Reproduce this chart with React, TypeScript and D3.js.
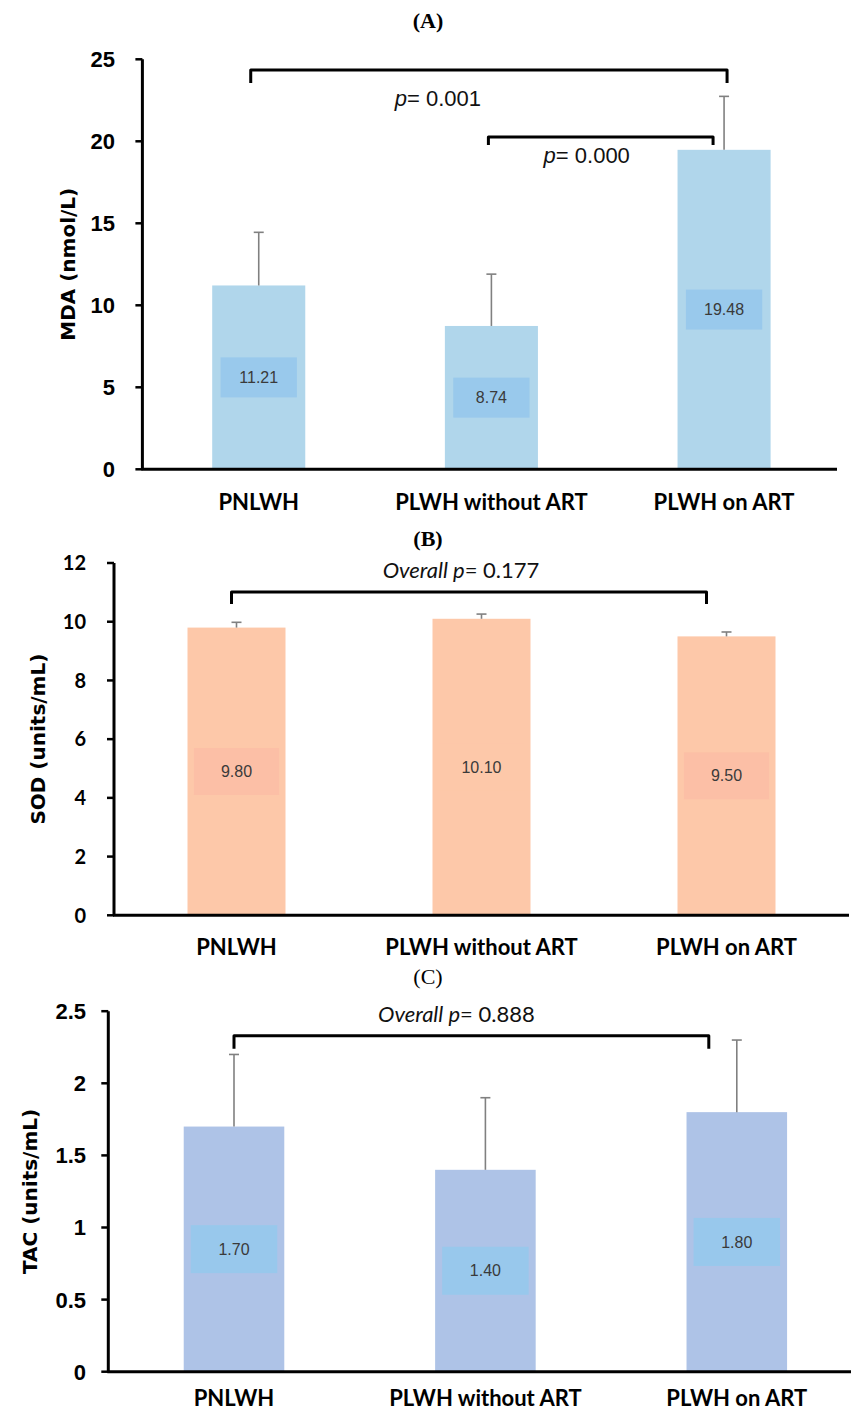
import React from 'react';
import * as d3 from 'd3';

// shared categories
const categories = ['PNLWH', 'PLWH without ART', 'PLWH on ART'];

// (A) MDA
const mdaMeans = [11.21, 8.74, 19.48];
const mdaErrors = [3.24, 3.16, 3.26];
const mdaTicks = [0, 5, 10, 15, 20, 25];
const mdaBrackets = [
  { from: 'PNLWH', to: 'PLWH on ART', level: 24.35, leg: 23.55, lead: 'p', rest: '= 0.001' },
  { from: 'PLWH without ART', to: 'PLWH on ART', level: 20.26, leg: 19.78, lead: 'p', rest: '= 0.000' },
];

// (B) SOD
const sodMeans = [9.8, 10.1, 9.5];
const sodErrors = [0.18, 0.16, 0.15];
const sodTicks = [0, 2, 4, 6, 8, 10, 12];
const sodBrackets = [
  { from: 'PNLWH', to: 'PLWH on ART', level: 11.01, leg: 10.6, lead: 'Overall p', rest: '= 0.177' },
];

// (C) TAC
const tacMeans = [1.7, 1.4, 1.8];
const tacErrors = [0.5, 0.5, 0.5];
const tacTicks = [0, 0.5, 1, 1.5, 2, 2.5];
const tacBrackets = [
  { from: 'PNLWH', to: 'PLWH on ART', level: 2.33, leg: 2.24, lead: 'Overall p', rest: '= 0.888' },
];

const W = 851;
const H = 1414;

const Panel = ({ cfg }) => {
  const x = d3
    .scaleBand()
    .domain(categories)
    .range([cfg.left, cfg.right])
    .paddingInner(0.6)
    .paddingOuter(0.3);

  const y = d3
    .scaleLinear()
    .domain([0, cfg.ticks[cfg.ticks.length - 1]])
    .range([cfg.bottom, cfg.top]);

  const bw = x.bandwidth();
  const fmt = d3.format('.2f');
  const tickFmt = d3.format('~g');

  return (
    <g>
      <text
        x={cfg.captionX}
        y={cfg.captionY}
        textAnchor="middle"
        fontFamily="'Liberation Serif', 'Times New Roman', serif"
        fontWeight={cfg.captionBold ? 'bold' : 'normal'}
        fontSize={22}
        fill="#000"
      >
        {cfg.caption}
      </text>

      {/* bars */}
      {categories.map((c, i) => (
        <rect
          key={'bar' + c}
          x={x(c)}
          y={y(cfg.means[i])}
          width={bw}
          height={y(0) - y(cfg.means[i])}
          fill={cfg.barColor}
        />
      ))}

      {/* error bars, upper only */}
      {categories.map((c, i) => {
        const cx = x(c) + bw / 2;
        const top = y(cfg.means[i] + cfg.errors[i]);
        return (
          <g key={'err' + c} stroke="#808080" strokeWidth={1.6}>
            <line x1={cx} x2={cx} y1={y(cfg.means[i])} y2={top} />
            <line x1={cx - 5} x2={cx + 5} y1={top} y2={top} />
          </g>
        );
      })}

      {/* value labels */}
      {categories.map((c, i) => {
        const cx = x(c) + bw / 2;
        const cy = y(cfg.means[i] / 2);
        const bx = bw * cfg.boxFrac;
        return (
          <g key={'lab' + c}>
            <rect
              x={cx - bx / 2}
              y={cy - cfg.boxH / 2}
              width={bx}
              height={cfg.boxH}
              fill={cfg.boxColors[i]}
            />
            <text
              x={cx}
              y={cy}
              dy="0.35em"
              textAnchor="middle"
              fontFamily="'Liberation Sans', Arial, sans-serif"
              fontSize={16}
              fill="#3a3a3a"
            >
              {fmt(cfg.means[i])}
            </text>
          </g>
        );
      })}

      {/* y axis */}
      <line
        x1={cfg.left}
        x2={cfg.left}
        y1={y.range()[1]}
        y2={y(0)}
        stroke="#000"
        strokeWidth={3}
      />
      {cfg.ticks.map((t) => (
        <g key={'tick' + t}>
          <line x1={cfg.left - 7} x2={cfg.left} y1={y(t)} y2={y(t)} stroke="#000" strokeWidth={2.5} />
          <text
            x={cfg.tickRight}
            y={y(t)}
            dy="0.36em"
            textAnchor="end"
            fontFamily={cfg.tickFont}
            fontWeight="bold"
            fontSize={cfg.tickSize}
            fill="#000"
          >
            {tickFmt(t)}
          </text>
        </g>
      ))}

      {/* x axis */}
      <line
        x1={cfg.left - 1}
        x2={cfg.axisEnd}
        y1={y(0)}
        y2={y(0)}
        stroke="#000"
        strokeWidth={3}
      />
      {categories.map((c) => (
        <text
          key={'cat' + c}
          x={x(c) + bw / 2}
          y={cfg.catY}
          textAnchor="middle"
          fontFamily="Lato, 'Open Sans', sans-serif"
          fontWeight="bold"
          fontSize={22}
          fill="#000"
        >
          {c}
        </text>
      ))}

      {/* y title */}
      <text
        transform={`translate(${cfg.titleX},${(y.range()[0] + y.range()[1]) / 2}) rotate(-90)`}
        textAnchor="middle"
        dy="0.35em"
        fontFamily="'DejaVu Sans', Verdana, sans-serif"
        fontWeight="bold"
        fontSize={20}
        fill="#000"
      >
        {cfg.yTitle}
      </text>

      {/* significance brackets */}
      {cfg.brackets.map((b, k) => {
        const off = cfg.bracketOffsets[k];
        const xl = x(b.from) + bw / 2 + off.l;
        const xr = x(b.to) + bw / 2 + off.r;
        const yt = y(b.level);
        const yl = y(b.leg);
        return (
          <g key={'br' + k}>
            <path
              d={`M${xl},${yl}V${yt}H${xr}V${yl}`}
              fill="none"
              stroke="#000"
              strokeWidth={3}
              strokeLinejoin="round"
            />
            <text
              x={(xl + xr) / 2 + off.tx}
              y={yt + off.ty}
              textAnchor="middle"
              fontFamily={cfg.pFont}
              fontSize={22}
              fill="#111"
            >
              <tspan fontStyle="italic">{b.lead}</tspan>
              <tspan>{b.rest}</tspan>
            </text>
          </g>
        );
      })}
    </g>
  );
};

const panels = [
  {
    caption: '(A)',
    captionX: 428,
    captionY: 28,
    captionBold: true,
    means: mdaMeans,
    errors: mdaErrors,
    ticks: mdaTicks,
    brackets: mdaBrackets,
    yTitle: 'MDA (nmol/L)',
    top: 59.3,
    bottom: 469.3,
    left: 142.4,
    right: 840.4,
    axisEnd: 837,
    barColor: '#b0d6eb',
    boxColors: ['#99c9ec', '#99c9ec', '#99c9ec'],
    boxFrac: 0.82,
    boxH: 40,
    tickFont: "'Liberation Sans', Arial, sans-serif",
    tickSize: 22,
    tickRight: 115,
    titleX: 68,
    catY: 510,
    pFont: "'Liberation Sans', Arial, sans-serif",
    bracketOffsets: [
      { l: -8, r: 3, tx: -51, ty: 36 },
      { l: -3, r: -11, tx: -14, ty: 26 },
    ],
  },
  {
    caption: '(B)',
    captionX: 428,
    captionY: 546,
    captionBold: true,
    means: sodMeans,
    errors: sodErrors,
    ticks: sodTicks,
    brackets: sodBrackets,
    yTitle: 'SOD (units/mL)',
    top: 563,
    bottom: 915.3,
    left: 114,
    right: 849,
    axisEnd: 849,
    barColor: '#fdc8a9',
    boxColors: ['#fcbfa6', '#fdc8a9', '#fcbfa6'],
    boxFrac: 0.87,
    boxH: 47,
    tickFont: "Lato, 'Open Sans', sans-serif",
    tickSize: 20,
    tickRight: 86,
    titleX: 38,
    catY: 955,
    pFont: "Lato, 'Open Sans', sans-serif",
    bracketOffsets: [{ l: -5, r: -20, tx: -8, ty: -14 }],
  },
  {
    caption: '(C)',
    captionX: 428,
    captionY: 984,
    captionBold: false,
    means: tacMeans,
    errors: tacErrors,
    ticks: tacTicks,
    brackets: tacBrackets,
    yTitle: 'TAC (units/mL)',
    top: 1011.2,
    bottom: 1371.7,
    left: 108.3,
    right: 862.5,
    axisEnd: 851,
    barColor: '#aec3e7',
    boxColors: ['#98c8ec', '#98c8ec', '#98c8ec'],
    boxFrac: 0.86,
    boxH: 48,
    tickFont: "'Liberation Sans', Arial, sans-serif",
    tickSize: 22,
    tickRight: 86,
    titleX: 30,
    catY: 1406,
    pFont: "Lato, 'Open Sans', sans-serif",
    bracketOffsets: [{ l: 0, r: -28, tx: -15, ty: -14 }],
  },
];

const App = () => {
  return (
    <svg
      width={W}
      height={H}
      viewBox={`0 0 ${W} ${H}`}
      style={{ position: 'absolute', left: 0, top: 0, background: '#fff' }}
    >
      <rect width={W} height={H} fill="#fff" />
      {panels.map((p) => (
        <Panel key={p.caption} cfg={p} />
      ))}
    </svg>
  );
};

export default App;
